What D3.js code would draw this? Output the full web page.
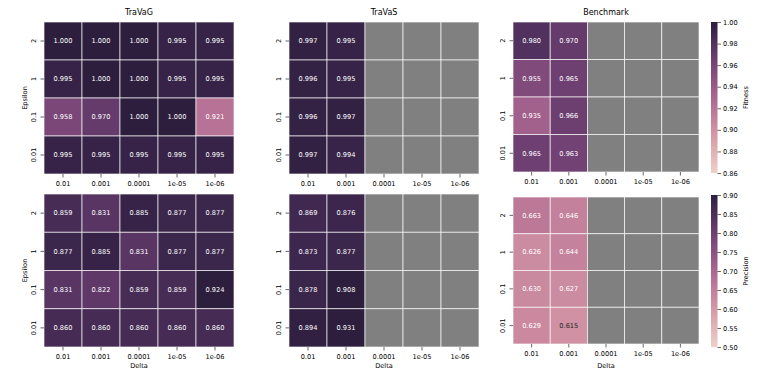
<!DOCTYPE html>
<html>
<head>
    <meta charset="utf-8">
    <title>Fitness / Precision heatmaps</title>
    <script type="text/javascript" src="https://cdn.jsdelivr.net/npm/d3@7"></script>
    <style type="text/css">
        html, body { margin: 0; background: #fff; }
        svg { display: block; font-family: "DejaVu Sans", sans-serif; }
        .tick line { stroke: #000; stroke-width: 0.6; }
        .tick text { fill: #000; }
        .domain { display: none; }
    </style>
</head>
<body>
<script type="text/javascript">
    var w = 764, h = 377;

    var deltas = ["0.01", "0.001", "0.0001", "1e-05", "1e-06"];
    var epsilons = ["2", "1", "0.1", "0.01"];

    // rows = epsilon (2, 1, 0.1, 0.01), cols = delta; null = not run
    var fitTravag = [
        [1.000, 1.000, 1.000, 0.995, 0.995],
        [0.995, 1.000, 1.000, 0.995, 0.995],
        [0.958, 0.970, 1.000, 1.000, 0.921],
        [0.995, 0.995, 0.995, 0.995, 0.995]
    ];
    var fitTravas = [
        [0.997, 0.995, null, null, null],
        [0.996, 0.995, null, null, null],
        [0.996, 0.997, null, null, null],
        [0.997, 0.994, null, null, null]
    ];
    var fitBench = [
        [0.980, 0.970, null, null, null],
        [0.955, 0.965, null, null, null],
        [0.935, 0.966, null, null, null],
        [0.965, 0.963, null, null, null]
    ];
    var precTravag = [
        [0.859, 0.831, 0.885, 0.877, 0.877],
        [0.877, 0.885, 0.831, 0.877, 0.877],
        [0.831, 0.822, 0.859, 0.859, 0.924],
        [0.860, 0.860, 0.860, 0.860, 0.860]
    ];
    var precTravas = [
        [0.869, 0.876, null, null, null],
        [0.873, 0.877, null, null, null],
        [0.878, 0.908, null, null, null],
        [0.894, 0.931, null, null, null]
    ];
    var precBench = [
        [0.663, 0.646, null, null, null],
        [0.626, 0.644, null, null, null],
        [0.630, 0.627, null, null, null],
        [0.629, 0.615, null, null, null]
    ];

    var titles = ["TraVaG", "TraVaS", "Benchmark"];
    var fitDomain = [0.86, 1.00], precDomain = [0.50, 0.90];
    var fitTicks = [0.86, 0.88, 0.90, 0.92, 0.94, 0.96, 0.98, 1.00];
    var precTicks = [0.50, 0.55, 0.60, 0.65, 0.70, 0.75, 0.80, 0.85, 0.90];

    var fs = 6.6;

    // seaborn cubehelix_palette(as_cmap=True): start 0, rot .4, light .85, dark .15
    function cubehelix(t) {
        var x = 0.85 + (0.15 - 0.85) * Math.max(0, Math.min(1, t));
        var a = 0.8 * x * (1 - x) / 2;
        var phi = 2 * Math.PI * (0.4 * x);
        var c = Math.cos(phi), s = Math.sin(phi);
        var r = x + a * (-0.14861 * c + 1.78277 * s);
        var g = x + a * (-0.29227 * c - 0.90649 * s);
        var b = x + a * (1.97294 * c);
        var cl = function (v) { return Math.round(255 * Math.max(0, Math.min(1, v))); };
        return d3.rgb(cl(r), cl(g), cl(b));
    }

    function textColor(col) {
        var lin = [col.r, col.g, col.b].map(function (v) {
            v = v / 255;
            return v <= 0.03928 ? v / 12.92 : Math.pow((v + 0.055) / 1.055, 2.4);
        });
        var lum = 0.2126 * lin[0] + 0.7152 * lin[1] + 0.0722 * lin[2];
        return lum > 0.355 ? "#262626" : "#fff";
    }

    var fitColor = d3.scaleSequential(cubehelix).domain(fitDomain).clamp(true);
    var precColor = d3.scaleSequential(cubehelix).domain(precDomain).clamp(true);

    var panels = [
        {data: fitTravag, col: 0, row: 0, x0: 44, x1: 234, y0: 22, y1: 174, color: fitColor},
        {data: fitTravas, col: 1, row: 0, x0: 289, x1: 479, y0: 22, y1: 174, color: fitColor},
        {data: fitBench, col: 2, row: 0, x0: 513, x1: 699, y0: 22, y1: 172, color: fitColor},
        {data: precTravag, col: 0, row: 1, x0: 44, x1: 234, y0: 194, y1: 347, color: precColor},
        {data: precTravas, col: 1, row: 1, x0: 289, x1: 479, y0: 194, y1: 347, color: precColor},
        {data: precBench, col: 2, row: 1, x0: 513, x1: 699, y0: 197, y1: 344, color: precColor}
    ];

    var svg = d3.select("body").append("svg")
        .attr("width", w)
        .attr("height", h);

    panels.forEach(function (p) {
        var x = d3.scaleBand().domain(deltas).range([p.x0, p.x1]);
        var y = d3.scaleBand().domain(epsilons).range([p.y0, p.y1]);

        var cells = [];
        p.data.forEach(function (row, i) {
            row.forEach(function (v, j) {
                cells.push({eps: epsilons[i], delta: deltas[j], v: v});
            });
        });

        var g = svg.append("g");

        g.selectAll("rect")
            .data(cells)
            .enter().append("rect")
            .attr("x", function (d) { return x(d.delta); })
            .attr("y", function (d) { return y(d.eps); })
            .attr("width", x.bandwidth())
            .attr("height", y.bandwidth())
            .attr("fill", function (d) { return d.v == null ? "#808080" : p.color(d.v); })
            .attr("stroke", "#fff")
            .attr("stroke-opacity", 0.8)
            .attr("stroke-width", 0.8);

        g.selectAll("text.annot")
            .data(cells.filter(function (d) { return d.v != null; }))
            .enter().append("text")
            .attr("class", "annot")
            .attr("x", function (d) { return x(d.delta) + x.bandwidth() / 2; })
            .attr("y", function (d) { return y(d.eps) + y.bandwidth() / 2; })
            .attr("dy", "0.35em")
            .attr("text-anchor", "middle")
            .style("font-size", fs + "px")
            .attr("fill", function (d) { return textColor(d3.rgb(p.color(d.v))); })
            .text(function (d) { return d.v.toFixed(3); });

        // axes
        g.append("g")
            .attr("transform", "translate(0," + p.y1 + ")")
            .style("font-size", fs + "px")
            .call(d3.axisBottom(x).tickSize(3.5).tickPadding(3.5));

        var ya = g.append("g")
            .attr("transform", "translate(" + p.x0 + ",0)")
            .style("font-size", fs + "px")
            .call(d3.axisLeft(y).tickSize(3.5));
        ya.selectAll(".tick text")
            .attr("x", null).attr("dy", null)
            .attr("text-anchor", "middle")
            .attr("transform", "translate(-8,0) rotate(-90)");

        if (p.row === 0) {
            svg.append("text")
                .attr("x", (p.x0 + p.x1) / 2)
                .attr("y", 15)
                .attr("text-anchor", "middle")
                .style("font-size", "8px")
                .text(titles[p.col]);
        } else {
            svg.append("text")
                .attr("x", (p.x0 + p.x1) / 2)
                .attr("y", 368)
                .attr("text-anchor", "middle")
                .style("font-size", fs + "px")
                .text("Delta");
        }
        if (p.col === 0) {
            svg.append("text")
                .attr("transform", "translate(27," + ((p.y0 + p.y1) / 2) + ") rotate(-90)")
                .attr("text-anchor", "middle")
                .style("font-size", fs + "px")
                .text("Epsilon");
        }
    });

    // colorbars
    var bars = [
        {color: fitColor, dom: fitDomain, ticks: fitTicks, y0: 22, y1: 173, label: "Fitness", id: "gf"},
        {color: precColor, dom: precDomain, ticks: precTicks, y0: 195, y1: 347, label: "Precision", id: "gp"}
    ];
    var defs = svg.append("defs");

    bars.forEach(function (b) {
        var grad = defs.append("linearGradient")
            .attr("id", b.id)
            .attr("x1", 0).attr("y1", 1).attr("x2", 0).attr("y2", 0);
        d3.range(0, 1.0001, 0.05).forEach(function (t) {
            grad.append("stop")
                .attr("offset", t)
                .attr("stop-color", cubehelix(t));
        });

        svg.append("rect")
            .attr("x", 711)
            .attr("y", b.y0)
            .attr("width", 6.5)
            .attr("height", b.y1 - b.y0)
            .attr("fill", "url(#" + b.id + ")");

        var s = d3.scaleLinear().domain(b.dom).range([b.y1, b.y0]);
        svg.append("g")
            .attr("transform", "translate(717.5,0)")
            .style("font-size", fs + "px")
            .call(d3.axisRight(s).tickValues(b.ticks).tickFormat(d3.format(".2f")).tickSize(3.5).tickPadding(2));

        svg.append("text")
            .attr("transform", "translate(748," + ((b.y0 + b.y1) / 2) + ") rotate(-90)")
            .attr("text-anchor", "middle")
            .style("font-size", fs + "px")
            .text(b.label);
    });
    // let the svg font apply to axis text too
    svg.selectAll("g").attr("font-family", null);
</script>
</body>
</html>
